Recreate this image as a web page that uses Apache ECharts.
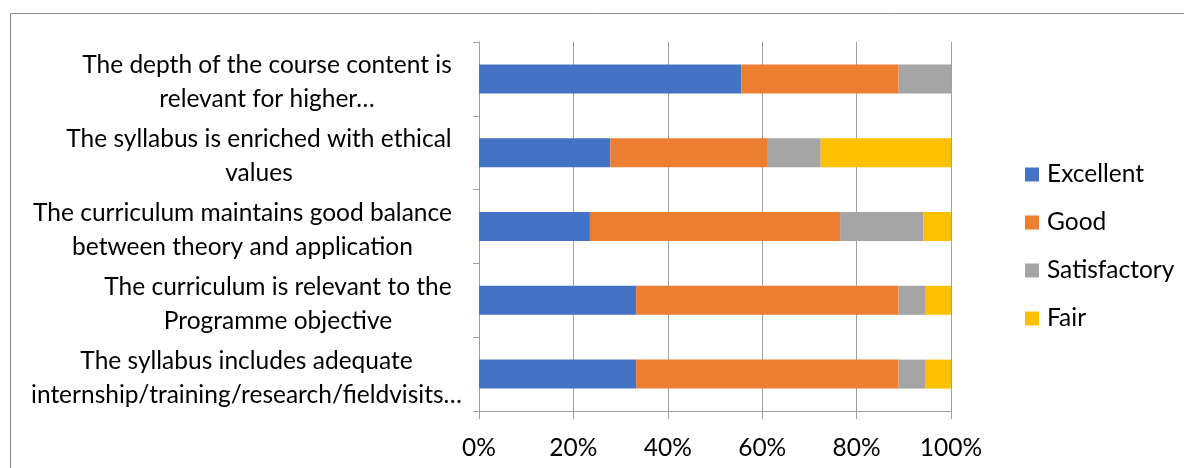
<!DOCTYPE html>
<html>
<head>
<meta charset="utf-8">
<script src="https://cdn.jsdelivr.net/npm/echarts@6/dist/echarts.min.js"></script>
<style>
  html, body { margin: 0; padding: 0; background: #fff; }
  #chart { width: 1184px; height: 468px; }
</style>
</head>
<body>
<div id="chart"></div>
<script>
// categories, top to bottom
var categories = [
  'The depth of the course content is\nrelevant for higher…',
  'The syllabus is enriched with ethical\nvalues',
  'The curriculum maintains good balance\nbetween theory and application',
  'The curriculum is relevant to the\nProgramme objective',
  'The syllabus includes adequate\ninternship/training/research/fieldvisits…'
];
var excellent = [55.6, 27.8, 23.5, 33.3, 33.3];
var good = [33.3, 33.4, 53.0, 55.6, 55.6];
var satisfactory = [11.1, 11.2, 17.6, 5.6, 5.6];
var fair = [0, 27.6, 5.9, 5.5, 5.5];
var xTicks = [0, 20, 40, 60, 80, 100];

var FONT = 'Lato';
var FS = 24.5;

// measure each label's widest line so wrapped lines are centred like Excel does
var ctx = document.createElement('canvas').getContext('2d');
ctx.font = FS + 'px ' + FONT;
var rich = {};
categories.forEach(function (c, i) {
  var w = 0;
  c.split('\n').forEach(function (l) { w = Math.max(w, ctx.measureText(l).width); });
  // last label overflows toward the axis in the original
  var padR = i === categories.length - 1 ? 10 : 20;
  rich['c' + i] = {
    width: Math.ceil(w) + 2, align: 'center', fontSize: FS, fontFamily: FONT,
    color: '#000', lineHeight: 34, padding: [0, padR, 0, 0]
  };
});

var chart = echarts.init(document.getElementById('chart'));
var seriesDefs = [
  { name: 'Excellent', data: excellent, color: '#4472C4' },
  { name: 'Good', data: good, color: '#ED7D31' },
  { name: 'Satisfactory', data: satisfactory, color: '#A5A5A5' },
  { name: 'Fair', data: fair, color: '#FFC000' }
];

var option = {
  animation: false,
  textStyle: { fontFamily: FONT },
  graphic: [{
    type: 'rect',
    shape: { x: 10.5, y: 13.5, width: 1200, height: 500 },
    style: { fill: 'none', stroke: '#8c8c8c', lineWidth: 1 },
    silent: true
  }],
  grid: { left: 479, right: 233, top: 42, bottom: 57 },
  legend: {
    orient: 'vertical',
    left: 1020,
    top: 157,
    itemWidth: 14,
    itemHeight: 14,
    itemGap: 23,
    icon: 'rect',
    textStyle: { fontSize: FS, fontFamily: FONT, color: '#000', padding: [0, 0, 0, 3] },
    data: seriesDefs.map(function (s) { return s.name; })
  },
  xAxis: {
    type: 'value',
    min: 0,
    max: 100,
    interval: 20,
    axisLine: { show: true, lineStyle: { color: '#a0a0a0', width: 1 } },
    axisTick: { show: true, length: 8, lineStyle: { color: '#a0a0a0' } },
    splitLine: { show: true, lineStyle: { color: '#a0a0a0', width: 1 } },
    axisLabel: {
      margin: 25,
      fontSize: FS,
      fontFamily: FONT,
      color: '#000',
      formatter: function (v) { return xTicks.indexOf(v) >= 0 ? v + '%' : ''; }
    }
  },
  yAxis: {
    type: 'category',
    inverse: true,
    data: categories,
    axisLine: { show: true, lineStyle: { color: '#a0a0a0', width: 1 } },
    axisTick: { show: true, length: 6, lineStyle: { color: '#a0a0a0' } },
    axisLabel: {
      margin: 6,
      padding: [7, 0, 0, 0],
      formatter: function (v, i) {
        return v.split('\n').map(function (l) { return '{c' + i + '|' + l + '}'; }).join('\n');
      },
      rich: rich
    }
  },
  series: seriesDefs.map(function (s) {
    return {
      name: s.name,
      type: 'bar',
      stack: 'total',
      barWidth: 29,
      data: s.data,
      itemStyle: { color: s.color }
    };
  })
};
chart.setOption(option);
</script>
</body>
</html>
